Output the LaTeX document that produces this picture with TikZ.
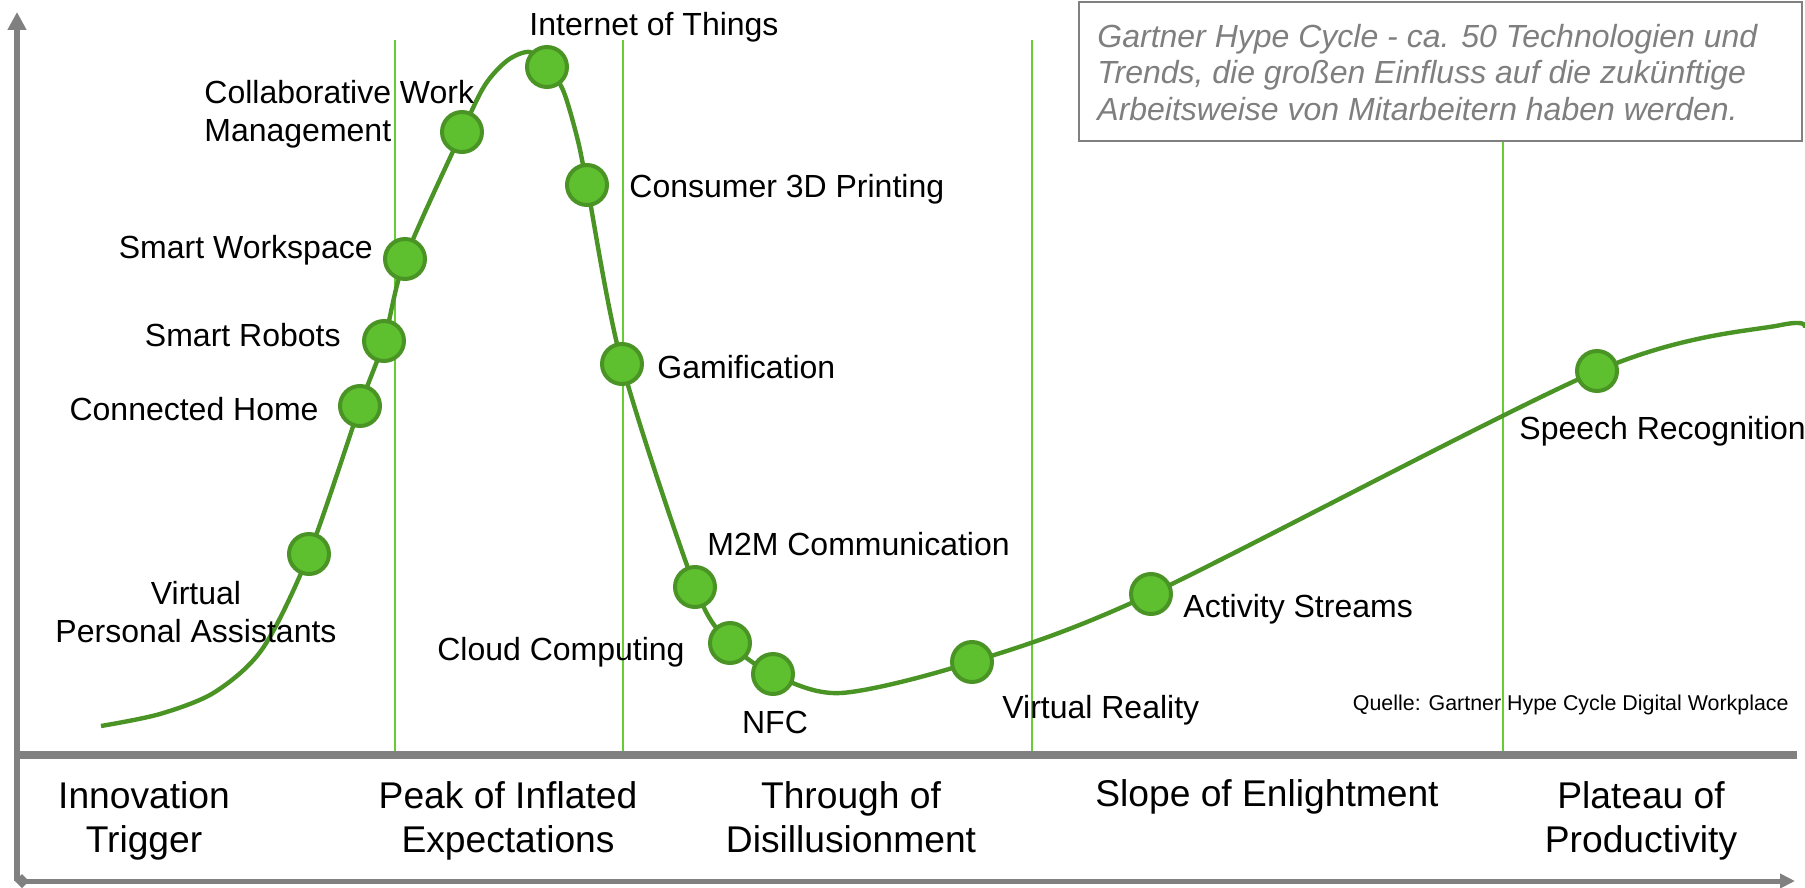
\documentclass[tikz,border=0pt]{standalone}
\usepackage{fontspec}
\setmainfont{Liberation Sans}
\usetikzlibrary{arrows.meta}
\definecolor{curvegreen}{HTML}{4A9426}
\definecolor{dotgreen}{HTML}{5EBF2F}
\definecolor{phasegreen}{HTML}{66CC33}
\definecolor{axisgray}{HTML}{808080}
\definecolor{boxtext}{HTML}{7F7F7F}
\begin{document}
\begin{tikzpicture}[x=0.5pt,y=-0.5pt,
  dot/.style={circle,fill=dotgreen,draw=curvegreen,line width=2pt,minimum size=20pt,inner sep=0pt},
  lbl/.style={font=\fontsize{16}{19}\selectfont,inner sep=0pt},
  phase/.style={font=\fontsize{18.6}{22}\selectfont,inner sep=0pt,align=center,anchor=base},
  phaseline/.style={draw=phasegreen,line width=1pt},
  axis/.style={draw=axisgray,line width=3pt}]
\useasboundingbox (0,0) rectangle (1805,888);
% phase separators
\coordinate (s1t) at (395,40);  \coordinate (s1b) at (395,752);
\coordinate (s2t) at (623,40);  \coordinate (s2b) at (623,752);
\coordinate (s3t) at (1032,40); \coordinate (s3b) at (1032,752);
\coordinate (s4t) at (1503,141); \coordinate (s4b) at (1503,752);
\draw[phaseline] (s1t) -- (s1b);
\draw[phaseline] (s2t) -- (s2b);
\draw[phaseline] (s3t) -- (s3b);
\draw[phaseline] (s4t) -- (s4b);
% axes
\coordinate (yb) at (17,881); \coordinate (yt) at (17,12);
\coordinate (xl) at (15,881); \coordinate (xr) at (1795,881);
\coordinate (bl) at (17,755); \coordinate (br) at (1797,755);
\draw[axis,-{Triangle[length=9pt,width=9pt]}] (yb) -- (yt);
\draw[axis,line width=2.5pt,{Diamond[length=7pt,width=7pt]}-{Triangle[length=7.5pt,width=7pt]}] (xl) -- (xr);
\draw[axis,line width=4pt] (bl) -- (br);
% hype curve
\draw[curvegreen,line width=2.2pt] plot[smooth,tension=0.5] coordinates {
 (101,726) (160,714) (215,692) (263,648) (309,554) (360,406) (384,341) (405,259) (462,132)
 (485,85) (508,60) (530,52) (547,67) (563,90) (577,137) (587,185) (622,364) (695,587) (730,643) (773,674) (841,693)
 (972,662) (1151,594) (1597,371) (1781,325) (1805,328)};
% dots
\node[dot] (vpa) at (309,554) {};
\node[dot] (ch) at (360,406) {};
\node[dot] (sr) at (384,341) {};
\node[dot] (sw) at (405,259) {};
\node[dot] (cwm) at (462,132) {};
\node[dot] (iot) at (547,67) {};
\node[dot] (c3d) at (587,185) {};
\node[dot] (gam) at (622,364) {};
\node[dot] (m2m) at (695,587) {};
\node[dot] (cc) at (730,643) {};
\node[dot] (nfc) at (773,674) {};
\node[dot] (vr) at (972,662) {};
\node[dot] (as) at (1151,594) {};
\node[dot] (spr) at (1597,371) {};
% labels
\node[lbl,anchor=base] (liot) at (654,36) {Internet of Things};
\node[lbl,anchor=base west,align=left] (lcwm) at (204,141) {Collaborative Work\\Management};
\node[lbl,anchor=base west] (lc3d) at (629,198) {Consumer 3D Printing};
\node[lbl,anchor=base east] (lsw) at (373,258) {Smart Workspace};
\node[lbl,anchor=base east] (lsr) at (341,346) {Smart Robots};
\node[lbl,anchor=base east] (lch) at (319,420) {Connected Home};
\node[lbl,anchor=base west] (lgam) at (657,378) {Gamification};
\node[lbl,anchor=base,align=center] (lvpa) at (196,642) {Virtual\\Personal Assistants};
\node[lbl,anchor=base west] (lm2m) at (707,555) {M2M Communication};
\node[lbl,anchor=base east] (lcc) at (685,660) {Cloud Computing};
\node[lbl,anchor=base] (lnfc) at (775,733) {NFC};
\node[lbl,anchor=base west] (lvr) at (1002,718) {Virtual Reality};
\node[lbl,anchor=base west] (las) at (1183,617) {Activity Streams};
\node[lbl,anchor=base west] (lspr) at (1519,439) {Speech Recognition};
\node[inner sep=0pt,anchor=base east,font=\fontsize{10.7}{13}\selectfont] (src) at (1789,710) {Quelle: Gartner Hype Cycle Digital Workplace};
% phases
\node[phase] (p1) at (144,852) {Innovation\\Trigger};
\node[phase] (p2) at (508,852) {Peak of Inflated\\Expectations};
\node[phase] (p3) at (851,852) {Through of\\Disillusionment};
\node[phase] (p4) at (1267,806) {Slope of Enlightment};
\node[phase] (p5) at (1641,852) {Plateau of\\Productivity};
% info box
\draw[draw=axisgray,line width=1pt] (1079,2) rectangle (1802,141);
\node[inner sep=0pt,anchor=base west,align=left,text=boxtext,font=\fontsize{16}{18}\selectfont\itshape] (info) at (1097,120) {Gartner Hype Cycle - ca. 50 Technologien und\\Trends, die großen Einfluss auf die zukünftige\\Arbeitsweise von Mitarbeitern haben werden.};
\end{tikzpicture}
\end{document}
